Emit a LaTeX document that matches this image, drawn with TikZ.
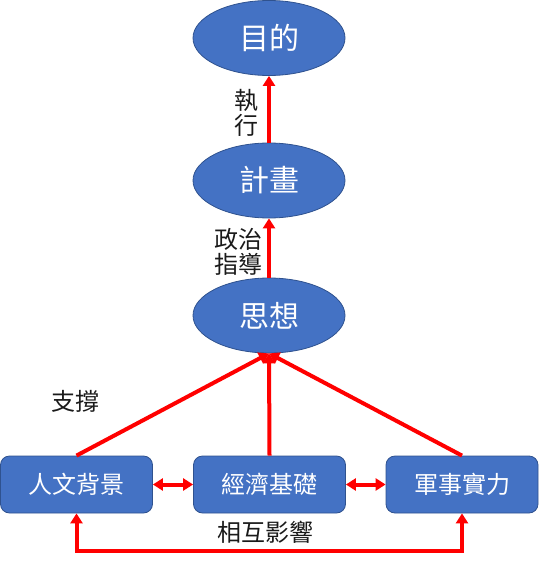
\documentclass[tikz,border=0pt]{standalone}
\usepackage{fontspec}
\setmainfont{Noto Sans CJK TC}
\usetikzlibrary{shapes.geometric,arrows.meta}
\definecolor{nodeblue}{HTML}{4472C4}
\definecolor{nodeedge}{HTML}{2F528F}
\definecolor{arrred}{HTML}{FF0000}
\definecolor{lbl}{HTML}{1A1A1A}
\tikzset{
  oval/.style={ellipse, fill=nodeblue, draw=nodeedge, line width=0.8pt, minimum width=152pt, minimum height=75pt, inner sep=0pt, text=white, font=\fontsize{30}{32}\selectfont},
  box/.style={rectangle, rounded corners=9pt, fill=nodeblue, draw=nodeedge, line width=0.8pt, minimum width=152pt, minimum height=57pt, inner sep=0pt, text=white, font=\fontsize{24}{26}\selectfont},
  lab/.style={text=lbl, align=center, inner sep=0pt, font=\fontsize{24}{25}\selectfont},
  redarr/.style={draw=arrred, line width=4pt, -{Triangle[length=10pt,width=12pt]}},
  redboth/.style={draw=arrred, line width=4pt, {Triangle[length=10pt,width=12pt]}-{Triangle[length=10pt,width=12pt]}},
  redplain/.style={draw=arrred, line width=4pt}
}
\begin{document}
\begin{tikzpicture}[x=1pt,y=-1pt]
\useasboundingbox (0,0) rectangle (538,561);
\node[oval] (e1) at (269,38) {目的};
\node[oval] (e2) at (269,180.5) {計畫};
\node[oval] (e3) at (269,315.5) {思想};
\node[box] (b1) at (76.5,484.5) {人文背景};
\node[box] (b2) at (269.5,484.5) {經濟基礎};
\node[box] (b3) at (462,484.5) {軍事實力};
\draw[redarr] (e2.north) -- (e1.south);
\draw[redarr] (e3.north) -- (e2.south);
\draw[redarr] (b1.north) -- (e3.south);
\draw[redarr] (b2.north) -- (e3.south);
\draw[redarr] (b3.north) -- (e3.south);
\draw[redboth] (b1.east) -- (b2.west);
\draw[redboth] (b2.east) -- (b3.west);
\coordinate (bl) at (76.5,551);
\coordinate (br) at (462,551);
\draw[redboth, line join=miter] (b1.south) -- (bl) -- (br) -- (b3.south);
\node[lab] (l1) at (246.5,113) {執\\行};
\node[lab] (l2) at (238.5,252) {政治\\指導};
\node[lab] (l3) at (75,401) {支撐};
\node[lab] (l4) at (265.5,532.5) {相互影響};
\end{tikzpicture}
\end{document}
